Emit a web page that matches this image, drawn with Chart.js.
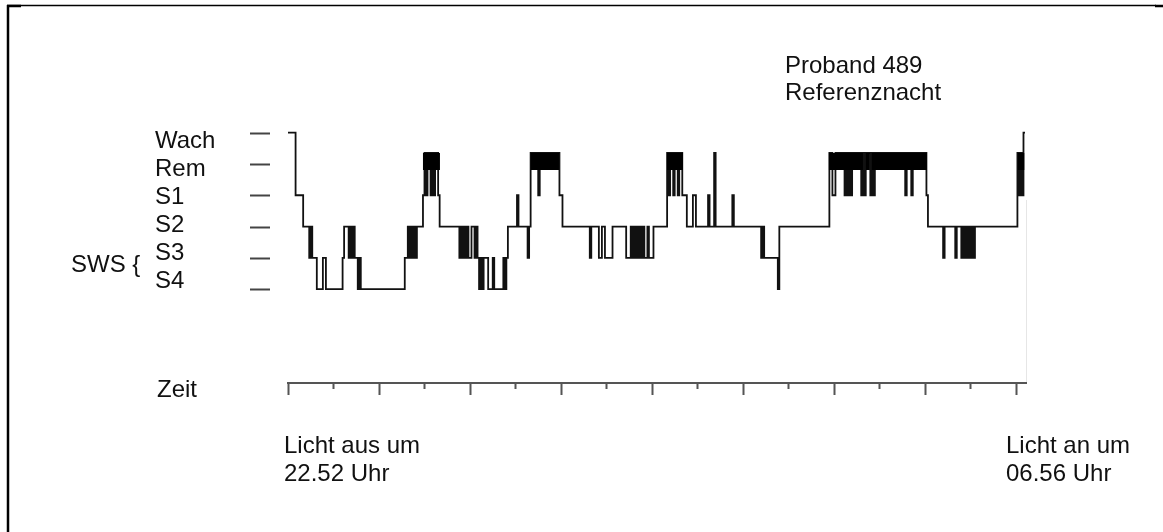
<!DOCTYPE html>
<html>
<head>
<meta charset="utf-8">
<script src="https://cdn.jsdelivr.net/npm/chart.js@4/dist/chart.umd.min.js"></script>
<style>
  body { margin: 0; background: #fff; }
  canvas { display: block; }
</style>
</head>
<body>
<canvas id="hypno" width="1163" height="532"></canvas>
<script>
// sleep stages, one entry per run, and how many minutes each run lasts (minute 0 = lights out)
const runStages = [
  'W','1','2','3','2','3','4','3','4','3',
  '2','3','2','3','2','3','4','3','4','3',
  '2','3','2','3','2','3','2','1','R','1',
  'R','1','R','1','R','1','2','3','2','3',
  '2','3','2','3','2','3','2','3','4','3',
  '4','3','4','3','4','3','4','3','2','1',
  '2','3','2','R','1','R','1','2','3','2',
  '3','2','3','2','3','2','3','2','3','2',
  '3','2','3','2','3','2','3','2','R','1',
  'R','1','R','1','R','1','2','1','2','1',
  '2','R','2','1','2','3','2','3','4','2',
  'R','1','R','1','R','1','R','1','R','1',
  'R','1','R','1','R','1','R','1','R','1',
  'R','1','2','3','2','3','2','3','2','3',
  '2','3','2','3','2','3','2','R','1','R',
  '1','W'
];
const runMinutes = [
  5,5,4,1,1,3,4,2,11,1,
  3,1,1,1,1,2,1,1,29,2,
  1,1,1,1,1,1,4,1,1,1,
  2,1,1,1,2,1,13,1,1,1,
  1,1,1,2,2,1,1,1,1,1,
  1,3,3,1,6,1,1,1,6,1,
  6,1,1,5,1,13,2,18,1,5,
  2,2,5,9,3,1,1,1,1,1,
  1,1,1,1,2,1,3,9,1,1,
  2,1,2,1,2,3,4,2,8,1,
  3,1,11,1,18,1,1,9,1,33,
  2,2,6,1,1,1,1,1,6,1,
  1,1,3,1,1,1,20,1,3,1,
  9,1,10,1,7,1,3,1,1,1,
  1,1,1,1,1,1,28,1,1,1,
  1,1
];
// REM episodes drawn as a solid bar [start, end] in minutes
const remBars = [[89, 100.2], [160.2, 178.7], [249.9, 260.4], [356.7, 379.1], [381.1, 383.7], [385, 421.3], [481.3, 485.5]];

const stageNames = ['Wach', 'Rem', 'S1', 'S2', 'S3', 'S4'];
const stageTicks = [5, 4, 3, 2, 1, 0];
const stageLevel = { W: 5, R: 4.35, '1': 3, '2': 2, '3': 1, '4': 0 };
const remBarLevel = 4.08;
const timeTicks = [0, 30, 60, 90, 120, 150, 180, 210, 240, 270, 300, 330, 360, 390, 420, 450, 480];
const nightMinutes = 486;

const hypnoPoints = [];
let t = 0;
runStages.forEach((s, i) => {
  hypnoPoints.push({ x: t, y: stageLevel[s] });
  t += runMinutes[i];
});
hypnoPoints.push({ x: t, y: stageLevel[runStages[runStages.length - 1]] });

const remPoints = [];
remBars.forEach(([a, b]) => {
  remPoints.push({ x: a, y: remBarLevel }, { x: b, y: remBarLevel }, { x: b, y: null });
});

const FONT = '24px "Liberation Sans", Arial, sans-serif';

const decor = {
  id: 'decor',
  afterDraw(chart) {
    const ctx = chart.ctx;
    const xs = chart.scales.x, ys = chart.scales.y;
    const area = chart.chartArea;
    ctx.save();

    // frame (left + top only)
    ctx.strokeStyle = '#000';
    ctx.lineWidth = 2.5;
    ctx.beginPath();
    ctx.moveTo(8, 5); ctx.lineTo(8, 532);
    ctx.moveTo(7, 6); ctx.lineTo(21, 6);
    ctx.moveTo(1155, 6); ctx.lineTo(1163, 6);
    ctx.stroke();
    ctx.lineWidth = 1.3;
    ctx.beginPath();
    ctx.moveTo(7, 5.5); ctx.lineTo(1156, 5.5);
    ctx.stroke();

    // stage dashes
    ctx.strokeStyle = '#444';
    ctx.lineWidth = 2;
    stageTicks.forEach(v => {
      const y = Math.round(ys.getPixelForValue(v)) + 0.5;
      ctx.beginPath(); ctx.moveTo(250, y); ctx.lineTo(270, y); ctx.stroke();
    });

    // stage labels
    ctx.fillStyle = '#111';
    ctx.font = FONT;
    ctx.textBaseline = 'alphabetic';
    const top = ys.getPixelForValue(stageTicks[0]) + 15;
    const bot = ys.getPixelForValue(stageTicks[stageTicks.length - 1]) - 1.5;
    stageNames.forEach((n, i) => {
      ctx.fillText(n, 155, top + (bot - top) * i / (stageNames.length - 1));
    });
    ctx.fillText('SWS {', 71, 272);

    // time axis
    const axisY = area.bottom;
    ctx.strokeStyle = '#555';
    ctx.lineWidth = 2;
    ctx.beginPath();
    ctx.moveTo(area.left - 1, axisY); ctx.lineTo(area.right + 2, axisY);
    timeTicks.forEach(v => {
      const x = Math.round(xs.getPixelForValue(v)) + 0.5;
      ctx.moveTo(x, axisY); ctx.lineTo(x, axisY + (v % 60 === 0 ? 12 : 6));
    });
    ctx.stroke();

    ctx.strokeStyle = '#e6e6e6';
    ctx.lineWidth = 1;
    ctx.beginPath();
    ctx.moveTo(area.right + 1.5, 200); ctx.lineTo(area.right + 1.5, axisY - 1);
    ctx.stroke();

    ctx.fillText('Zeit', 157, 397);
    ctx.fillText('Licht aus um', 284, 453);
    ctx.fillText('22.52 Uhr', 284, 481);
    ctx.fillText('Licht an um', 1006, 453);
    ctx.fillText('06.56 Uhr', 1006, 481);
    ctx.fillText('Proband 489', 785, 73);
    ctx.fillText('Referenznacht', 785, 100);
    ctx.restore();
  }
};

new Chart(document.getElementById('hypno'), {
  type: 'line',
  data: {
    datasets: [
      {
        label: 'REM',
        data: remPoints,
        borderColor: '#000',
        borderWidth: 17,
        borderCapStyle: 'butt',
        pointRadius: 0,
        spanGaps: false
      },
      {
        label: 'Schlafstadium',
        data: hypnoPoints,
        stepped: true,
        borderColor: '#111',
        borderWidth: 1.8,
        pointRadius: 0
      }
    ]
  },
  options: {
    responsive: false,
    devicePixelRatio: 1,
    animation: false,
    layout: { padding: { left: 288, right: 138, top: 117, bottom: 149 } },
    scales: {
      x: { type: 'linear', min: 0, max: nightMinutes, display: false },
      y: { min: -3, max: 5.5, display: false }
    },
    plugins: { legend: { display: false }, tooltip: { enabled: false } }
  },
  plugins: [decor]
});
</script>
</body>
</html>
